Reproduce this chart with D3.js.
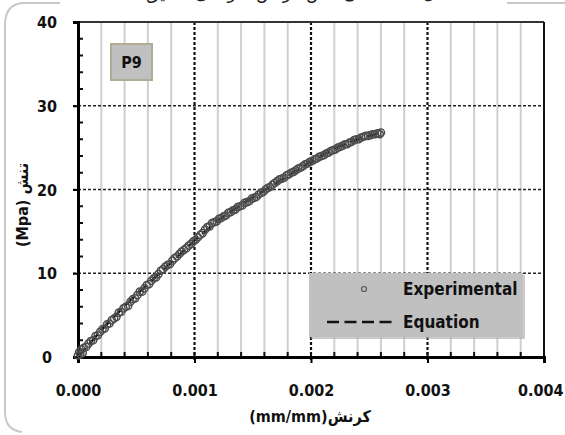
<!DOCTYPE html>
<html>
<head>
<meta charset="utf-8">
<script src="https://cdn.jsdelivr.net/npm/d3@7"></script>
<style>
  body { margin: 0; background: #fff; }
  svg { display: block; }
  .lbl { font-family: "DejaVu Sans Condensed", "Liberation Sans Narrow", "Arial Narrow", sans-serif; font-stretch: condensed; font-weight: bold; fill: #111; }
</style>
</head>
<body>
<svg id="chart" width="565" height="435"></svg>
<script>
// experimental points (strain mm/mm, stress MPa)
const expStrain = [
  0.00000, 0.00001, 0.00002, 0.00003, 0.00004, 0.00005, 0.00007, 0.00009, 0.00011, 0.00013,
  0.00015, 0.00017, 0.00019, 0.00021, 0.00023, 0.00025, 0.00027, 0.00029, 0.00031, 0.00033,
  0.00035, 0.00037, 0.00039, 0.00041, 0.00043, 0.00045, 0.00047, 0.00049, 0.00051, 0.00053,
  0.00055, 0.00057, 0.00059, 0.00061, 0.00063, 0.00065, 0.00067, 0.00069, 0.00071, 0.00073,
  0.00075, 0.00077, 0.00079, 0.00081, 0.00083, 0.00085, 0.00087, 0.00089, 0.00091, 0.00093,
  0.00095, 0.00097, 0.00099, 0.00101, 0.00103, 0.00105, 0.00107, 0.00109, 0.00111, 0.00113,
  0.00115, 0.00117, 0.00119, 0.00121, 0.00123, 0.00125, 0.00127, 0.00129, 0.00131, 0.00133,
  0.00135, 0.00137, 0.00139, 0.00141, 0.00143, 0.00145, 0.00147, 0.00149, 0.00151, 0.00153,
  0.00155, 0.00157, 0.00159, 0.00161, 0.00163, 0.00165, 0.00167, 0.00169, 0.00171, 0.00173,
  0.00175, 0.00177, 0.00179, 0.00181, 0.00183, 0.00185, 0.00187, 0.00189, 0.00191, 0.00193,
  0.00195, 0.00197, 0.00199, 0.00201, 0.00203, 0.00205, 0.00207, 0.00209, 0.00211, 0.00213,
  0.00215, 0.00217, 0.00219, 0.00221, 0.00223, 0.00225, 0.00227, 0.00229, 0.00231, 0.00233,
  0.00235, 0.00237, 0.00239, 0.00241, 0.00243, 0.00245, 0.00247, 0.00249, 0.00251, 0.00253,
  0.00255, 0.00257, 0.00259, 0.00260
];
const expStress = [
  0.2, 0.6, 0.3, 0.9, 0.5, 1.1, 1.2, 1.6, 1.9, 2.0,
  2.5, 2.6, 3.0, 3.3, 3.4, 3.9, 4.0, 4.4, 4.6, 4.8,
  5.3, 5.4, 5.8, 6.0, 6.1, 6.6, 6.9, 7.0, 7.4, 7.8,
  7.8, 8.2, 8.6, 8.7, 9.1, 9.4, 9.5, 9.9, 10.3, 10.5,
  10.8, 11.0, 11.1, 11.5, 11.8, 12.0, 12.3, 12.6, 12.8, 13.0,
  13.3, 13.5, 13.8, 14.0, 14.3, 14.6, 14.8, 15.2, 15.5, 15.6,
  16.0, 16.1, 16.2, 16.5, 16.6, 16.8, 16.9, 17.2, 17.3, 17.5,
  17.6, 17.9, 18.0, 18.1, 18.4, 18.5, 18.6, 18.9, 19.0, 19.1,
  19.4, 19.6, 19.7, 20.0, 20.2, 20.3, 20.6, 20.8, 21.0, 21.2,
  21.3, 21.4, 21.7, 21.8, 22.0, 22.1, 22.3, 22.5, 22.6, 22.8,
  23.0, 23.1, 23.3, 23.4, 23.6, 23.7, 23.9, 24.0, 24.1, 24.3,
  24.4, 24.6, 24.7, 24.8, 25.0, 25.1, 25.2, 25.4, 25.4, 25.6,
  25.7, 25.9, 26.0, 26.0, 26.2, 26.3, 26.4, 26.4, 26.5, 26.6,
  26.6, 26.7, 26.6, 26.8
];
// equation curve
const eqStrain = [0, 0.0002, 0.0004, 0.0006, 0.0008, 0.0010, 0.0012, 0.0014, 0.0016, 0.0018, 0.0020, 0.0022, 0.0024, 0.0026];
const eqStress = [0, 3.2, 6.1, 8.7, 11.3, 13.9, 16.3, 18.2, 19.9, 21.6, 23.3, 24.9, 26.0, 26.8];

const xTicks = [0, 0.001, 0.002, 0.003, 0.004];
const yTicks = [0, 10, 20, 30, 40];
const seriesNames = ["Experimental", "Equation"];
const sampleName = "P9";
const xTitle = "(mm/mm)کرنش";
const yTitle = "(Mpa) تنش";
const caption = "شکل ۱۰- منحنی تنش-کرنش نمونه ی تحقیق.";

const svg = d3.select("#chart");
const L = 78, R = 544, T = 22, B = 357;

const x = d3.scaleLinear().domain([0, 0.004]).range([L, R]);
const y = d3.scaleLinear().domain([0, 40]).range([B, T]);

// outer frame
svg.append("path")
  .attr("d", "M60,3 L25,3 Q5,3 5,25 L5,412 Q5,430 22,432")
  .attr("fill", "none").attr("stroke", "#c8c8c8").attr("stroke-width", 2);
svg.append("line").attr("x1", 507).attr("x2", 565).attr("y1", 3).attr("y2", 3)
  .attr("stroke", "#c8c8c8").attr("stroke-width", 2);

// caption, cut off at the top like the source
svg.append("text")
  .attr("x", 300).attr("y", -1)
  .attr("text-anchor", "middle")
  .attr("direction", "rtl")
  .style("font-family", "'DejaVu Sans', sans-serif")
  .style("font-size", "17px")
  .attr("fill", "#222")
  .text(caption);

// minor vertical grid
const minorX = d3.range(1, 20).map(i => i * 0.0002).filter(v => Math.abs(v * 1000 - Math.round(v * 1000)) > 1e-6);
svg.append("g").selectAll("line").data(minorX).join("line")
  .attr("x1", d => x(d)).attr("x2", d => x(d))
  .attr("y1", T).attr("y2", B)
  .attr("stroke", "#cfcfcf").attr("stroke-width", 2);

// major grid
svg.append("g").selectAll("line").data(yTicks.slice(1, 4)).join("line")
  .attr("x1", L - 5).attr("x2", R)
  .attr("y1", d => y(d)).attr("y2", d => y(d))
  .attr("stroke", "#222").attr("stroke-width", 1.3).attr("stroke-dasharray", "3,2");
svg.append("g").selectAll("line").data(xTicks.slice(1, 4)).join("line")
  .attr("x1", d => x(d)).attr("x2", d => x(d))
  .attr("y1", T).attr("y2", B + 5)
  .attr("stroke", "#111").attr("stroke-width", 2.2).attr("stroke-dasharray", "3,2");

// minor ticks
svg.append("g").selectAll("line").data(d3.range(1, 20).map(i => i * 0.0002)).join("line")
  .attr("x1", d => x(d)).attr("x2", d => x(d))
  .attr("y1", B).attr("y2", B - 5)
  .attr("stroke", "#111").attr("stroke-width", 2);
svg.append("g").selectAll("line").data(d3.range(2, 40, 2).filter(v => v % 10 !== 0)).join("line")
  .attr("x1", L).attr("x2", L + 5)
  .attr("y1", d => y(d)).attr("y2", d => y(d))
  .attr("stroke", "#111").attr("stroke-width", 2);

// legend box
const lg = svg.append("g");
lg.append("rect").attr("x", 311).attr("y", 275).attr("width", 214).attr("height", 64).attr("fill", "#a8a8a8").attr("opacity", 0.6);
lg.append("rect").attr("x", 309).attr("y", 273).attr("width", 214).attr("height", 64).attr("fill", "#c0c0c0");
lg.append("circle").attr("cx", 364).attr("cy", 289).attr("r", 2.5)
  .attr("fill", "none").attr("stroke", "#555").attr("stroke-width", 1.2);
lg.append("line").attr("x1", 327).attr("x2", 392).attr("y1", 322).attr("y2", 322)
  .attr("stroke", "#111").attr("stroke-width", 2.5).attr("stroke-dasharray", "12,5.5");
lg.selectAll("text").data(seriesNames).join("text")
  .attr("class", "lbl")
  .attr("x", 403).attr("y", (d, i) => 295 + i * 33)
  .style("font-size", "17px")
  .text(d => d);

// axes border
svg.append("line").attr("x1", L).attr("x2", R).attr("y1", T).attr("y2", T).attr("stroke", "#333").attr("stroke-width", 2);
svg.append("line").attr("x1", R).attr("x2", R).attr("y1", T).attr("y2", B).attr("stroke", "#111").attr("stroke-width", 2);

const yAxis = svg.append("g").attr("transform", `translate(${L},0)`)
  .call(d3.axisLeft(y).tickValues(yTicks).tickSize(5).tickFormat(d3.format("d")));
const xAxis = svg.append("g").attr("transform", `translate(0,${B})`)
  .call(d3.axisBottom(x).tickValues(xTicks).tickSize(6).tickFormat(d3.format(".3f")));
[xAxis, yAxis].forEach(a => {
  a.select(".domain").attr("stroke", "#000").attr("stroke-width", 3);
  a.selectAll(".tick line").attr("stroke", "#000").attr("stroke-width", 2);
  a.selectAll("text").attr("class", "lbl").style("font-size", "16px");
});
xAxis.selectAll(".tick text").attr("dy", "0").attr("y", 39);
// last label sits against the right edge, as in the source
xAxis.selectAll(".tick text").filter(d => d === 0.004).attr("text-anchor", "end").attr("x", 19);
yAxis.selectAll(".tick text").attr("x", -31).attr("text-anchor", "middle").attr("dy", "0.35em");

// equation line
svg.append("path")
  .datum(eqStrain.map((s, i) => [s, eqStress[i]]))
  .attr("d", d3.line().x(d => x(d[0])).y(d => y(d[1])))
  .attr("fill", "none").attr("stroke", "#111").attr("stroke-width", 2.5).attr("stroke-dasharray", "12,5.5");

// experimental points
svg.append("g").selectAll("circle").data(expStrain.map((s, i) => [s, expStress[i]])).join("circle")
  .attr("cx", d => x(d[0])).attr("cy", d => y(d[1])).attr("r", 3.6)
  .attr("fill", "none").attr("stroke", "#4d4d4d").attr("stroke-width", 1.5);

// sample label
svg.append("rect").attr("x", 111).attr("y", 44).attr("width", 41).attr("height", 36)
  .attr("fill", "#c0c0c0").attr("stroke", "#b0ac94").attr("stroke-width", 2);
svg.append("text").attr("class", "lbl").attr("x", 131.5).attr("y", 68)
  .attr("text-anchor", "middle").style("font-size", "16px").text(sampleName);

// axis titles
svg.append("text").attr("class", "lbl")
  .attr("x", 310).attr("y", 422).attr("text-anchor", "middle")
  .style("font-size", "16px").text(xTitle);
svg.append("text").attr("class", "lbl")
  .attr("transform", "translate(28,205) rotate(-90)")
  .attr("text-anchor", "middle")
  .style("font-size", "16px").text(yTitle);
</script>
</body>
</html>
